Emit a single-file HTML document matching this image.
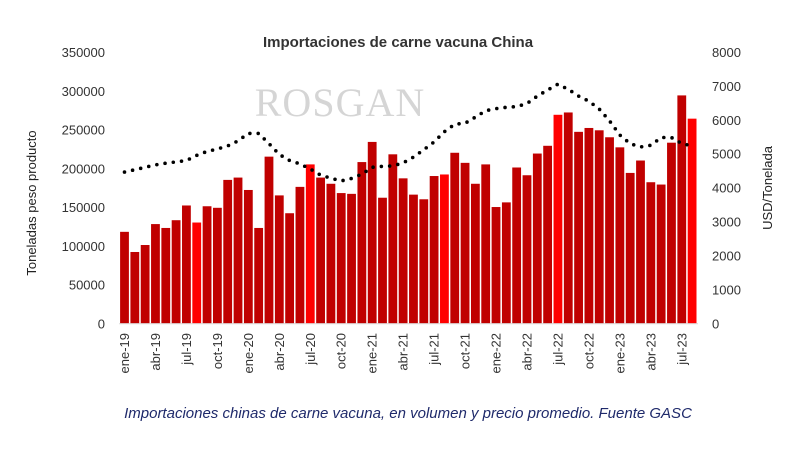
<!DOCTYPE html>
<html><head><meta charset="utf-8"><style>
body{margin:0;background:#fff;}
svg{display:block;font-family:"Liberation Sans",sans-serif;}
</style></head><body>
<svg id="chart" width="795" height="449" viewBox="0 0 795 449">
<text x="398" y="47" text-anchor="middle" font-size="15" font-weight="bold" fill="#333">Importaciones de carne vacuna China</text>
<g opacity="0.35">
<text x="340" y="116" text-anchor="middle" font-family="Liberation Serif,serif" font-size="40" fill="#888" letter-spacing="1">ROSGAN</text>
</g>
<g id="bars"></g>
<line x1="119" y1="323.8" x2="698" y2="323.8" stroke="#d9d9d9" stroke-width="1"/>
<path id="priceLine" fill="none" stroke="#000" stroke-width="3.6" stroke-linecap="round" stroke-dasharray="0 8.3"/>
<g id="leftTicks"></g><g id="rightTicks"></g><g id="xTicks"></g>
<text transform="translate(36,203) rotate(-90)" text-anchor="middle" font-size="13" fill="#222">Toneladas peso producto</text>
<text transform="translate(772,188) rotate(-90)" text-anchor="middle" font-size="13" fill="#222">USD/Tonelada</text>
<text x="408" y="418" text-anchor="middle" font-size="15" font-style="italic" fill="#1f2a6b">Importaciones chinas de carne vacuna, en volumen y precio promedio. Fuente GASC</text>
</svg>
<script>
const volumes=[118,92,101,128,123,133,152,130,151,149,185,188,172,123,215,165,142,176,205,188,180,168,167,208,234,162,218,187,166,160,190,192,220,207,180,205,150,156,201,191,219,229,269,272,247,252,249,240,227,194,210,182,179,233,294,264];
const prices=[4.46,4.53,4.6,4.67,4.72,4.76,4.8,4.95,5.07,5.14,5.23,5.38,5.6,5.6,5.3,4.98,4.8,4.7,4.55,4.37,4.28,4.2,4.27,4.4,4.6,4.63,4.64,4.73,4.9,5.12,5.35,5.65,5.87,5.9,6.08,6.27,6.33,6.37,6.39,6.48,6.7,6.88,7.05,6.9,6.7,6.55,6.32,5.97,5.55,5.3,5.2,5.25,5.48,5.48,5.3,5.23];
const highlight=[7,18,31,42,55];
const leftTicks=[0,50000,100000,150000,200000,250000,300000,350000];
const rightTicks=[0,1000,2000,3000,4000,5000,6000,7000,8000];
const monthNames=["ene","feb","mar","abr","may","jun","jul","ago","sep","oct","nov","dic"];
const NS="http://www.w3.org/2000/svg";
const base=323.3, plotTop=52;
const yL=v=>base-(v/350000)*(base-plotTop);
const yR=v=>base-(v/8000)*(base-plotTop);
const xC=i=>124.5+i*10.32;
const bw=8.8;
const bars=document.getElementById('bars');
volumes.forEach((v,i)=>{const r=document.createElementNS(NS,'rect');
r.setAttribute('x',xC(i)-bw/2);r.setAttribute('y',yL(v*1000));r.setAttribute('width',bw);r.setAttribute('height',base-yL(v*1000));
r.setAttribute('fill',highlight.includes(i)?'#ff0000':'#c00000');


bars.appendChild(r);});
document.getElementById('priceLine').setAttribute('d',prices.map((p,i)=>(i?'L':'M')+xC(i).toFixed(1)+','+yR(p*1000).toFixed(1)).join(''));
const lt=document.getElementById('leftTicks');
leftTicks.forEach(t=>{const e=document.createElementNS(NS,'text');e.setAttribute('x',105);e.setAttribute('y',yL(t)+5);e.setAttribute('text-anchor','end');e.setAttribute('font-size','13');e.setAttribute('fill','#333');e.textContent=t;


lt.appendChild(e);});
const rt=document.getElementById('rightTicks');
rightTicks.forEach(t=>{const e=document.createElementNS(NS,'text');e.setAttribute('x',712);e.setAttribute('y',yR(t)+5);e.setAttribute('font-size','13');e.setAttribute('fill','#333');e.textContent=t;


rt.appendChild(e);});
const xt=document.getElementById('xTicks');
for(let i=0;i<volumes.length;i+=3){const m=i%12,yr=19+Math.floor(i/12);const e=document.createElementNS(NS,'text');
e.setAttribute('transform','translate('+(xC(i)+4.5)+',333) rotate(-90)');e.setAttribute('text-anchor','end');e.setAttribute('font-size','13');e.setAttribute('fill','#333');
e.textContent=monthNames[m]+'-'+yr;


xt.appendChild(e);}
</script>
</body></html>
